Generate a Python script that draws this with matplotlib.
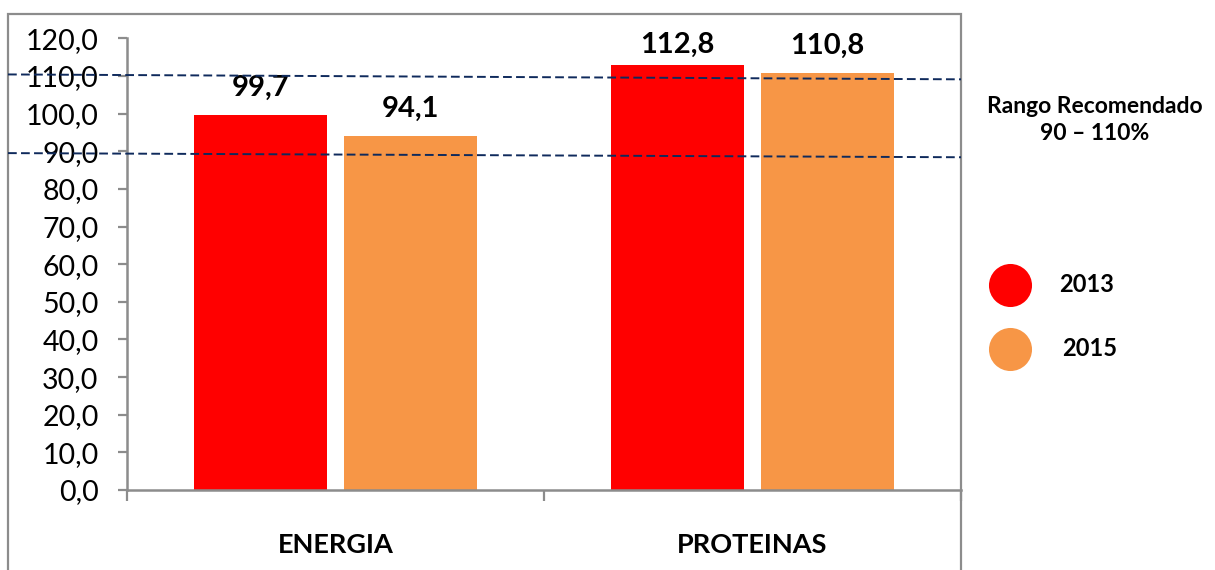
import matplotlib
matplotlib.use("Agg")
import matplotlib.pyplot as plt
from matplotlib.lines import Line2D
from matplotlib.patches import Rectangle
import matplotlib.transforms as mtransforms

# --- data ---------------------------------------------------------------
categories = ["ENERGIA", "PROTEINAS"]
years = ["2013", "2015"]
values_2013 = [99.7, 112.8]
values_2015 = [94.1, 110.8]
y_ticks = [0, 10, 20, 30, 40, 50, 60, 70, 80, 90, 100, 110, 120]
range_upper = [110.4, 109.1]   # dashed guide, left end / right end
range_lower = [89.5, 88.4]
range_title = "Rango Recomendado\n90 – 110%"

# --- style --------------------------------------------------------------
plt.rcParams["font.family"] = ["Lato", "DejaVu Sans"]
RED = "#FF0000"
ORANGE = "#F79646"
GRAY = "#8C8C8C"
NAVY = "#0F2A5C"

W, H = 1215, 570
fig = plt.figure(figsize=(W / 100, H / 100), dpi=100)
fig.patch.set_facecolor("white")

def fx(px):
    return px / W

def fy(py):
    return 1 - py / H

ax = fig.add_axes([fx(127), fy(490), fx(961) - fx(127), fy(38.3) - fy(490)])
ax.set_facecolor("none")

# outer chart border
fig.add_artist(Rectangle((fx(8), -0.05), fx(961) - fx(8), fy(14) + 0.05,
                         transform=fig.transFigure, fill=False,
                         edgecolor=GRAY, linewidth=1.6, zorder=0))

# --- bars ---------------------------------------------------------------
x = [0, 1]
bw = 0.319
off = 0.18
b1 = ax.bar([i - off for i in x], values_2013, width=bw, color=RED, zorder=2)
b2 = ax.bar([i + off for i in x], values_2015, width=bw, color=ORANGE, zorder=2)

ax.set_xlim(-0.5, 1.5)
ax.set_ylim(0, 120)

# value labels, kept inside the plotting area
for bars, vals in ((b1, values_2013), (b2, values_2015)):
    for rect, v in zip(bars, vals):
        ly = min(v + 5.0, 116.1)
        ax.text(rect.get_x() + rect.get_width() / 2, ly,
                f"{v:.1f}".replace(".", ","), ha="center", va="baseline",
                fontsize=21, fontweight="bold", color="black", zorder=4)

# --- axes styling -------------------------------------------------------
for s in ("top", "right"):
    ax.spines[s].set_visible(False)
for s in ("left", "bottom"):
    ax.spines[s].set_color(GRAY)
    ax.spines[s].set_linewidth(1.8)
    ax.spines[s].set_zorder(3)

ax.set_yticks(y_ticks)
ax.set_yticklabels([f"{t:.1f}".replace(".", ",") for t in y_ticks])
ax.tick_params(axis="y", length=6.5, width=1.6, color=GRAY, pad=14,
               labelsize=20.5, labelcolor="black")

ax.set_xticks([-0.5, 0.5, 1.5])
ax.set_xticklabels([])
ax.tick_params(axis="x", length=8, width=1.6, color=GRAY)

trans = mtransforms.blended_transform_factory(ax.transData, fig.transFigure)
for i, c in zip(x, categories):
    ax.text(i, fy(553), c, transform=trans, ha="center", va="baseline",
            fontsize=19.5, fontweight="bold", color="black")

# --- recommended range guides ------------------------------------------
x_left = (8 - 127) / (961 - 127)
guide_tr = mtransforms.blended_transform_factory(ax.transAxes, ax.transData)
for ends in (range_upper, range_lower):
    ax.add_line(Line2D([x_left, 1.0], ends, transform=guide_tr,
                       color=NAVY, linewidth=1.4, linestyle=(0, (4.5, 2.2)),
                       clip_on=False, zorder=5))

fig.text(fx(1095), fy(120), range_title, ha="center", va="center",
         fontsize=16.5, fontweight="bold", color="black", linespacing=1.3)

# --- legend -------------------------------------------------------------
legend_items = [(RED, years[0], 285, 1087), (ORANGE, years[1], 349, 1090)]
for color, label, py, tx in legend_items:
    fig.add_artist(Line2D([fx(1010)], [fy(py)], transform=fig.transFigure,
                          marker="o", markersize=31, color=color,
                          markeredgewidth=0, linestyle="none"))
    fig.text(fx(tx), fy(py), label, ha="center", va="center",
             fontsize=17, fontweight="bold", color="black")

fig.savefig("out.png", dpi=100, facecolor="white")
